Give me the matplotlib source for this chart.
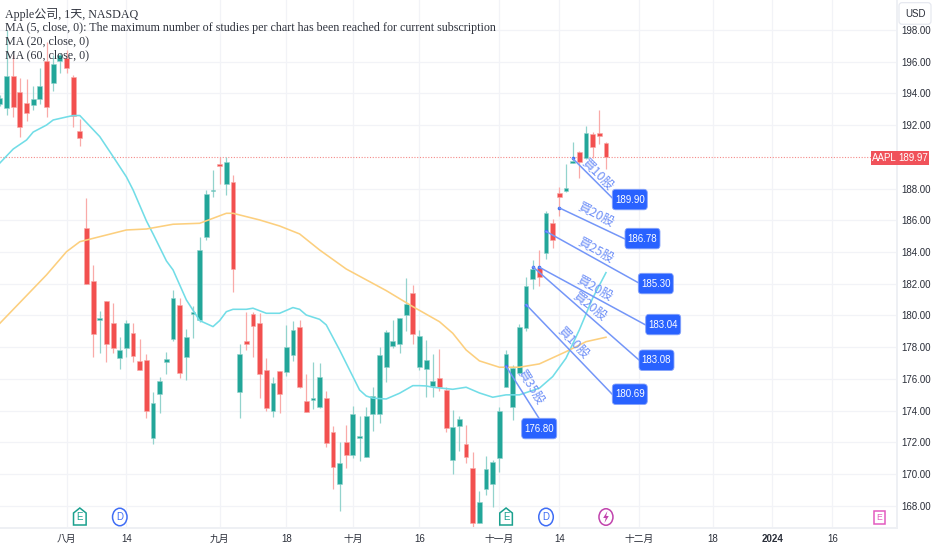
import matplotlib
matplotlib.use("Agg")
import matplotlib.pyplot as plt
from matplotlib.patches import FancyBboxPatch, Ellipse, Polygon, Rectangle
import logging
logging.getLogger("matplotlib.font_manager").setLevel(logging.ERROR)

# ---------- data ----------
opens = [193.33,193.08,195.09,194.08,193.39,193.27,193.64,196.04,194.65,196.04,196.23,195.03,191.63,
         185.52,182.18,179.72,180.92,179.53,177.33,177.96,178.90,177.14,177.20,172.29,175.06,177.07,178.52,
         180.67,177.39,180.10,179.72,184.95,187.85,189.55,188.29,188.41,175.18,178.40,180.10,179.53,176.57,
         173.99,176.51,176.44,177.52,179.28,174.62,174.68,174.24,174.81,172.66,169.39,172.03,171.22,172.29,
         171.09,173.80,173.80,176.76,178.08,178.21,180.03,181.42,176.76,176.63,175.56,176.07,175.31,170.90,
         173.04,171.91,170.40,166.93,169.07,169.39,171.03,175.50,174.24,176.38,179.22,182.30,183.00,183.94,
         185.83,187.72,187.85,189.61,190.30,189.93,191.44,191.50,190.87]
highs = [193.90,197.99,196.42,194.97,194.90,194.46,195.60,197.23,196.42,196.54,196.73,195.16,192.38,
         187.41,183.19,180.29,180.92,180.79,178.65,179.72,179.53,178.52,177.58,175.18,176.13,177.70,181.61,
         181.11,179.15,180.60,184.95,187.88,189.17,189.99,189.99,188.86,178.21,180.22,180.22,180.16,177.33,
         176.13,176.51,179.41,179.66,179.72,176.32,177.07,177.01,175.25,173.04,172.03,173.11,174.30,173.67,
         174.24,175.50,178.02,179.09,179.72,179.85,182.37,181.93,179.09,178.46,177.58,177.89,175.50,174.05,
         173.67,173.11,171.40,168.95,171.15,170.90,174.24,177.83,176.89,179.47,182.43,183.50,184.13,186.59,
         186.08,188.10,189.55,190.93,190.37,191.94,191.56,192.95,190.93]
lows = [193.20,192.64,192.51,191.25,192.26,192.95,193.33,192.51,194.15,195.28,195.28,191.88,190.68,
        181.99,177.39,177.64,177.07,177.64,176.63,177.39,177.07,176.57,173.55,171.91,173.86,176.32,178.40,
        176.07,175.94,178.59,179.59,184.76,187.47,188.29,187.60,181.48,173.55,177.83,177.39,174.81,173.99,
        173.61,173.86,176.19,177.14,175.44,173.92,174.11,174.18,171.72,169.07,167.69,170.40,171.03,170.84,
        171.09,172.73,173.23,175.81,177.96,177.64,179.03,178.21,176.57,174.87,174.87,175.25,172.66,170.02,
        171.47,170.71,166.68,166.93,168.70,167.94,170.14,175.50,173.42,176.38,179.03,181.67,181.86,183.56,
        184.26,186.27,187.78,189.61,188.67,189.86,189.93,190.81,189.23]
closes = [193.71,195.09,193.14,191.88,192.76,193.64,194.46,193.14,195.85,196.42,195.60,192.57,191.19,
          181.99,178.84,179.85,178.21,177.96,177.83,179.53,177.45,176.57,173.99,174.49,175.88,177.26,181.11,
          176.38,178.65,180.22,184.13,187.66,187.91,189.42,189.67,182.93,177.58,178.21,179.34,176.32,174.18,
          175.75,175.06,178.02,179.09,175.50,173.92,174.81,176.13,171.97,170.46,170.71,171.22,173.80,172.41,
          173.67,174.93,177.52,178.96,178.40,179.85,180.73,178.84,178.71,177.20,175.88,175.50,172.92,172.98,
          173.48,171.09,166.93,168.25,170.33,170.77,173.99,177.58,176.70,179.28,181.86,182.90,182.43,186.46,
          184.76,187.47,188.04,189.74,189.67,191.50,190.62,191.31,189.97]

ma20_days = [0,2,4,5,7,8,10,11,12,15,17,19,20,22,23,25,26,28,30,32,33,34,35,37,38,40,42,44,45,46,48,49,
             51,53,54,55,56,58,60,62,63,64,65,68,70,72,74,76,78,81,83,85,87,89,91]
ma20_vals = [189.61,190.49,191.06,191.56,192.00,192.32,192.51,192.60,192.60,191.27,190.01,188.73,187.91,
             185.96,185.14,183.44,182.87,180.98,179.68,179.30,179.68,180.24,180.39,180.39,180.46,180.14,
             180.14,180.50,180.39,180.03,179.76,179.41,177.83,176.15,175.31,174.93,174.79,174.74,175.10,
             175.58,175.58,175.56,175.48,175.35,175.48,175.12,174.85,175.00,175.00,175.42,176.15,177.31,
             179.09,181.09,182.70]
ma60_days = [0,7,10,12,19,22,26,30,34,35,39,42,45,48,52,58,62,66,68,70,72,75,78,81,85,88,91]
ma60_vals = [179.51,182.56,184.02,184.65,185.39,185.45,185.75,185.81,186.44,186.44,186.02,185.64,185.14,
             184.13,182.93,181.57,180.56,179.61,178.88,177.83,177.14,176.74,176.74,176.95,177.72,178.35,178.63]

order_days = [86,84,82,81,80,79,76]
order_anchor = [189.90,186.78,185.30,183.04,183.08,180.69,176.80]
order_prices = ["189.90","186.78","185.30","183.04","183.08","180.69","176.80"]
order_texts = ["買10股","買20股","買25股","買20股","買20股","買10股","買35股"]

price_ticks = [168,170,172,174,176,178,180,182,184,186,188,192,194,196,198]
time_ticks = [10,19,33,43,53,63,75,84,96,107,116,125]
time_labels = ["八月","14","九月","18","十月","16","十一月","14","十二月","18","2024","16"]
last_price = 189.97
legend_lines = ["Apple公司, 1天, NASDAQ",
                "MA (5, close, 0): The maximum number of studies per chart has been reached for current subscription",
                "MA (20, close, 0)",
                "MA (60, close, 0)"]
earn_days = [12, 76]
div_days = [18, 82]
split_days = [91]
future_days = [132]

# ---------- layout (pixels) ----------
W, H = 932, 550
PLOT_R, PLOT_B = 897, 528
PX_PER_DAY = 6.66
box_left = [612.3,625,638.3,645.7,639,612.3,521.7]
box_top = [189.3,228.3,273.3,314.3,350,384,418.3]
box_w, box_h = 35, 20.5
line_end = [(612.3,198),(625,239),(638.3,282.7),(645.7,325),(639,360),(612.3,394.3),(539,418.3)]
text_pos = [(597,175),(595.7,215),(595.7,250.7),(595,288.3),(590,306.7),(573.3,342.7),(530.7,387.3)]
text_rot = [-45,-27,-29,-29,-38,-46,-58]

SANS = ["Liberation Sans", "Noto Sans CJK TC", "DejaVu Sans"]
SERIF = ["Liberation Serif", "Noto Sans CJK SC", "DejaVu Sans"]
GREEN, GREEN_W = "#22a699", "#93d3cd"
RED, RED_W = "#f2504f", "#f9aaa8"
INK = "#2a2e39"
LABEL_SIZE = 7

fig = plt.figure(figsize=(W/100, H/100), dpi=100, facecolor="white")
ax = fig.add_axes([0, (H-PLOT_B)/H, PLOT_R/W, PLOT_B/H])
ax.set_xlim(0.1/PX_PER_DAY, (PLOT_R+0.1)/PX_PER_DAY)
ax.set_ylim(166.61, 199.88)

ax.grid(True, color="#f2f3f7", lw=0.9)
ax.set_axisbelow(True)
ax.set_yticks(price_ticks)
ax.set_yticklabels([f"{p:.2f}" for p in price_ticks])
ax.set_xticks(time_ticks)
ax.set_xticklabels(time_labels)
ax.yaxis.tick_right()
ax.tick_params(axis="both", length=0, colors=INK)
ax.tick_params(axis="y", pad=3.2)
ax.tick_params(axis="x", pad=4)
for lab in ax.get_yticklabels() + ax.get_xticklabels():
    lab.set_family(SANS)
    lab.set_fontsize(LABEL_SIZE)
for lab in ax.get_xticklabels():
    if lab.get_text() == "2024":
        lab.set_fontweight("bold")
for s in ("top", "left"):
    ax.spines[s].set_visible(False)
for s in ("right", "bottom"):
    ax.spines[s].set_color("#eef0f4")
    ax.spines[s].set_linewidth(1.4)

days = list(range(len(opens)))
w_cols = [GREEN_W if c >= o else RED_W for o, c in zip(opens, closes)]
b_cols = [GREEN if c >= o else RED for o, c in zip(opens, closes)]
ax.vlines(days, lows, highs, colors=w_cols, lw=0.9, zorder=2)
ax.bar(days, [abs(c-o) for o, c in zip(opens, closes)], bottom=[min(o, c) for o, c in zip(opens, closes)],
       width=0.72, color=b_cols, edgecolor=w_cols, linewidth=0.4, zorder=3)
ax.plot(ma20_days, ma20_vals, color="#72dde7", lw=1.15, zorder=4)
ax.plot(ma60_days, ma60_vals, color="#fccf7e", lw=1.15, zorder=4)
ax.axhline(last_price, color="#f58a88", lw=0.8, ls=(0, (1, 1.5)), zorder=1)

ov = fig.add_axes([0, 0, 1, 1], facecolor="none")
ov.set_xlim(0, W)
ov.set_ylim(H, 0)
ov.axis("off")

def px(day):
    return ax.transData.transform((day, 0))[0]

for y, s in zip([14.5, 28, 41.5, 55.5], legend_lines):
    ov.text(5, y, s, family=SERIF, fontsize=8.65, color="#30343e", va="center", ha="left", zorder=9)

LINE = "#7496f8"
for i in range(len(order_days)):
    ov.annotate("", xy=(order_days[i], order_anchor[i]), xycoords=ax.transData,
                xytext=line_end[i], textcoords=ov.transData,
                arrowprops=dict(arrowstyle="-", color=LINE, lw=1.1, shrinkA=0, shrinkB=0), zorder=5)
    ax.plot([order_days[i]], [order_anchor[i]], "o", ms=2.6, color="#3b6cf0", mew=0, zorder=6)
    ov.add_patch(FancyBboxPatch((box_left[i]+2, box_top[i]+2), box_w-4, box_h-4,
                                boxstyle="round,pad=2,rounding_size=3.5", fc="#2962ff", ec="#86a3fb", lw=0.6, zorder=7))
    ov.text(box_left[i]+box_w/2, box_top[i]+box_h/2, order_prices[i], family=SANS, fontsize=LABEL_SIZE,
            color="white", ha="center", va="center", zorder=8)
    ov.text(text_pos[i][0], text_pos[i][1], order_texts[i], family=["Noto Sans CJK TC", "DejaVu Sans"],
            fontsize=9, color="#6f90f7", rotation=text_rot[i], rotation_mode="anchor",
            ha="center", va="center", zorder=8)

# last price tags
ov.add_patch(Rectangle((871, 151), 25.6, 13.5, fc="#f0525a", ec="none", zorder=7))
ov.add_patch(Rectangle((897.4, 151), 32, 13.5, fc="#f0525a", ec="none", zorder=7))
ov.text(884, 158, "AAPL", family=SANS, fontsize=LABEL_SIZE, color="white", ha="center", va="center", zorder=8)
ov.text(913.4, 158, f"{last_price:.2f}", family=SANS, fontsize=LABEL_SIZE, color="white", ha="center", va="center", zorder=8)

# currency button
ov.add_patch(FancyBboxPatch((901, 4.7), 28, 17.5, boxstyle="round,pad=2,rounding_size=3",
                            fc="white", ec="#e3e6ee", lw=0.8, zorder=7))
ov.text(915, 13.7, "USD", family=SANS, fontsize=LABEL_SIZE, color=INK, ha="center", va="center", zorder=8)

# event marks
for d in earn_days:
    x = px(d)
    ov.add_patch(Polygon([(x-6.3, 525), (x-6.3, 513), (x, 508), (x+6.3, 513), (x+6.3, 525)],
                         closed=True, fc="white", ec="#1aa08e", lw=1.1, zorder=7))
    ov.text(x, 517.5, "E", family=SANS, fontsize=LABEL_SIZE, color="#1aa08e", ha="center", va="center", zorder=8)
for d in div_days:
    x = px(d)
    ov.add_patch(Ellipse((x, 517), 14.5, 17.5, fc="white", ec="#3f6df5", lw=1.1, zorder=7))
    ov.text(x, 517, "D", family=SANS, fontsize=LABEL_SIZE, color="#3f6df5", ha="center", va="center", zorder=8)
for d in split_days:
    x = px(d)
    ov.add_patch(Ellipse((x, 517), 14, 16.5, fc="white", ec="#c143ad", lw=1.1, zorder=7))
    ov.add_patch(Polygon([(x+1.5, 511), (x-2.8, 518), (x-0.2, 518), (x-1.5, 523), (x+2.8, 516), (x+0.2, 516)],
                         closed=True, fc="#c143ad", ec="none", zorder=8))
for d in future_days:
    x = px(d)
    ov.add_patch(Rectangle((x-5.5, 510.5), 11, 13.5, fc="white", ec="#e35bc0", lw=1.1, zorder=7))
    ov.text(x, 517.2, "E", family=SANS, fontsize=6.2, color="#e35bc0", ha="center", va="center", zorder=8)

fig.savefig("out.png", dpi=100, facecolor="white")
